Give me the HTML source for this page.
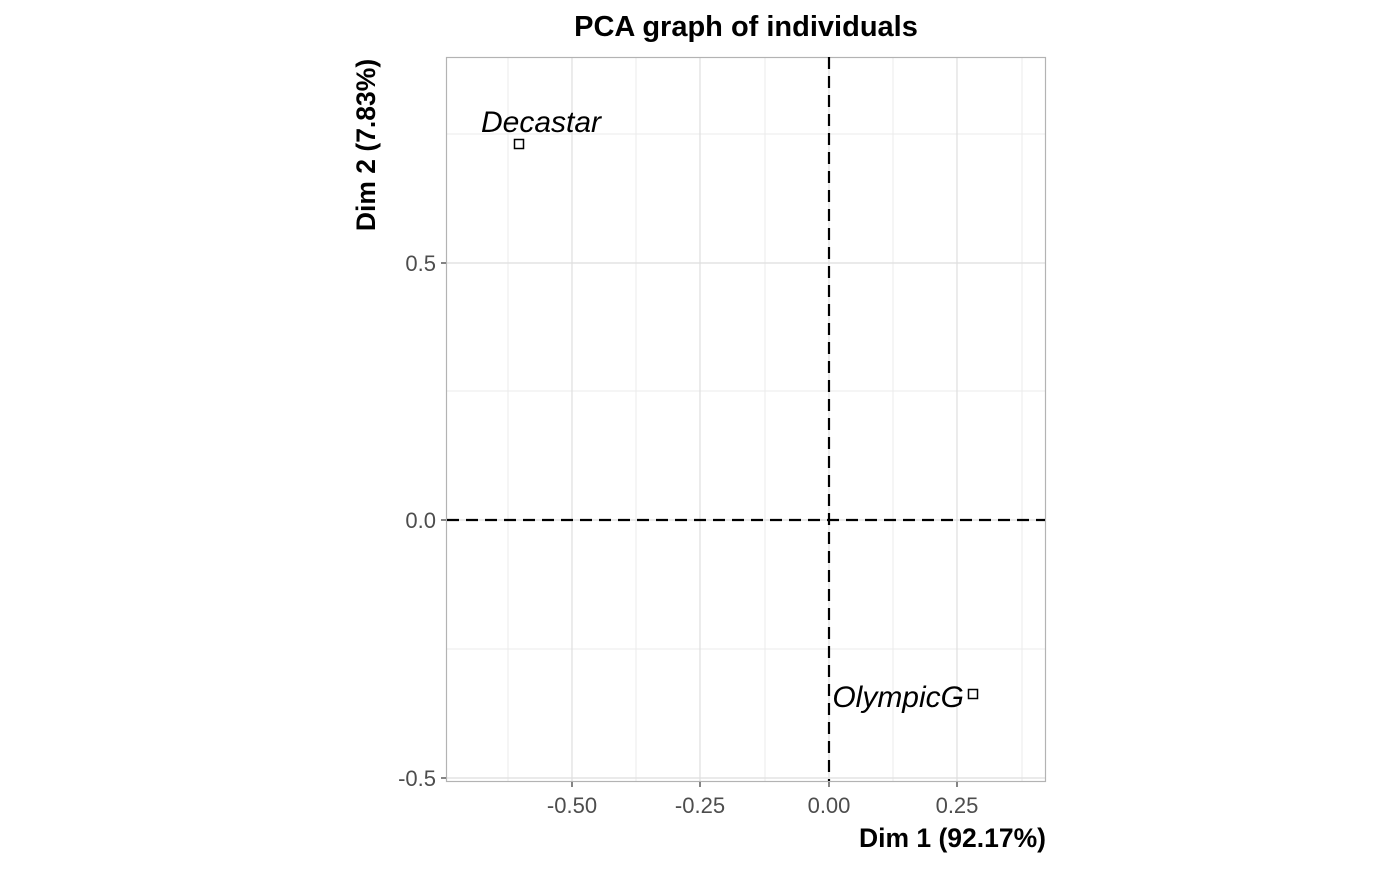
<!DOCTYPE html>
<html><head><style>body{margin:0;background:#fff}</style></head><body>
<svg width="1400" height="866" xmlns="http://www.w3.org/2000/svg" font-family="Liberation Sans, sans-serif">
<rect width="1400" height="866" fill="#fff"/>
<g stroke="#ebebeb" stroke-width="1">
<line x1="508" y1="57" x2="508" y2="781"/><line x1="636" y1="57" x2="636" y2="781"/><line x1="765" y1="57" x2="765" y2="781"/><line x1="893" y1="57" x2="893" y2="781"/><line x1="1022" y1="57" x2="1022" y2="781"/>
<line x1="447" y1="134" x2="1045" y2="134"/><line x1="447" y1="391" x2="1045" y2="391"/><line x1="447" y1="649" x2="1045" y2="649"/>
</g>
<g stroke="#dedede" stroke-width="1.2">
<line x1="572" y1="57" x2="572" y2="781"/><line x1="700" y1="57" x2="700" y2="781"/><line x1="829" y1="57" x2="829" y2="781"/><line x1="957" y1="57" x2="957" y2="781"/>
<line x1="447" y1="263" x2="1045" y2="263"/><line x1="447" y1="520" x2="1045" y2="520"/><line x1="447" y1="778" x2="1045" y2="778"/>
</g>
<rect x="446.5" y="57.5" width="599" height="724" fill="none" stroke="#b3b3b3" stroke-width="1.2"/>
<g stroke="#000" stroke-width="2.2" stroke-dasharray="12,7">
<line x1="829" y1="57" x2="829" y2="781"/><line x1="447" y1="520" x2="1045" y2="520"/>
</g>
<g stroke="#333" stroke-width="1.2">
<line x1="441" y1="263" x2="446" y2="263"/><line x1="441" y1="520" x2="446" y2="520"/><line x1="441" y1="778" x2="446" y2="778"/>
<line x1="572" y1="782" x2="572" y2="787"/><line x1="700" y1="782" x2="700" y2="787"/><line x1="829" y1="782" x2="829" y2="787"/><line x1="957" y1="782" x2="957" y2="787"/>
</g>
<g fill="#4d4d4d" style="font-size:22px">
<text x="436" y="271" text-anchor="end">0.5</text><text x="436" y="528" text-anchor="end">0.0</text><text x="436" y="786" text-anchor="end">-0.5</text>
<text x="572" y="813" text-anchor="middle">-0.50</text><text x="700" y="813" text-anchor="middle">-0.25</text><text x="829" y="813" text-anchor="middle">0.00</text><text x="957" y="813" text-anchor="middle">0.25</text>
</g>
<rect x="514.5" y="139.5" width="9" height="9" fill="none" stroke="#000" stroke-width="1.5"/>
<rect x="968.5" y="689.5" width="9" height="9" fill="none" stroke="#000" stroke-width="1.5"/>
<g font-style="italic" fill="#000" style="font-size:30px">
<text x="541" y="132" text-anchor="middle">Decastar</text>
<text x="964" y="707" text-anchor="end">OlympicG</text>
</g>
<text x="746" y="36" text-anchor="middle" font-weight="bold" style="font-size:29px">PCA graph of individuals</text>
<text x="1046" y="847" text-anchor="end" font-weight="bold" style="font-size:26.5px">Dim 1 (92.17%)</text>
<text transform="translate(375,145) rotate(-90)" text-anchor="middle" font-weight="bold" style="font-size:26.5px">Dim 2 (7.83%)</text>
</svg>
</body></html>
